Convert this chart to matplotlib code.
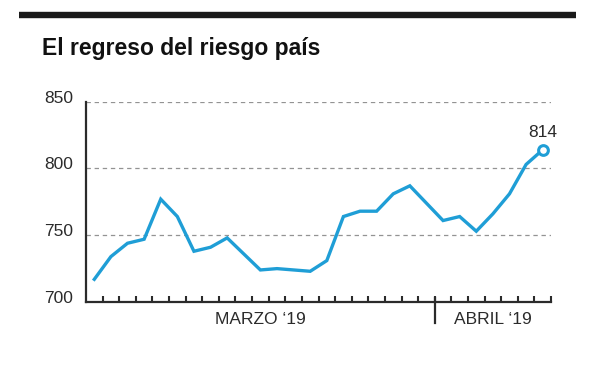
import numpy as np
import matplotlib.pyplot as plt
from matplotlib.lines import Line2D
from matplotlib.transforms import ScaledTranslation, blended_transform_factory

# riesgo pais, one value per trading day
values = [717, 734, 744, 747, 777, 764, 738, 741, 748, 736, 724, 725, 724, 723,
          731, 764, 768, 768, 781, 787, 774, 761, 764, 753, 766, 781, 803, 814]
month_labels = ["MARZO \u201819", "ABRIL \u201819"]
month_days = [21, 7]
y_ticks = [700, 750, 800, 850]
title = "El regreso del riesgo país"

blue = "#1f9ed6"
dark = "#2b2b2b"
font = ["Liberation Sans", "DejaVu Sans"]
plt.rcParams['font.family'] = font

fig = plt.figure(figsize=(6, 3.65), dpi=100)
ax = fig.add_axes([86 / 600, 1 - 302 / 365, 465 / 600, 200.3 / 365])

n = len(values)
x = np.arange(n) + 0.5
ax.plot(x, values, color=blue, lw=2.4, solid_joinstyle='miter', zorder=3)
ax.plot(x[-1], values[-1], 'o', ms=7, mfc='white', mec=blue, mew=2.2, zorder=4)
ax.annotate(str(values[-1]), (x[-1], values[-1]), xytext=(0, 7), textcoords='offset points',
            ha='center', va='bottom', fontsize=12.5, color=dark)

ax.set_xlim(0, n)
ax.set_ylim(y_ticks[0], y_ticks[-1])

# grid
for v in y_ticks[1:]:
    ax.axhline(v, color='#939393', lw=0.9, dashes=(3.5, 3), zorder=1)

for s in ['top', 'right']:
    ax.spines[s].set_visible(False)
for s in ['left', 'bottom']:
    ax.spines[s].set_color(dark)
    ax.spines[s].set_linewidth(1.6)

ax.set_yticks(y_ticks)
ax.set_yticklabels([str(v) for v in y_ticks])
ax.tick_params(axis='y', length=0, pad=9.5, labelsize=12.5, labelcolor=dark)
for lab in ax.get_yticklabels():
    lab.set_transform(lab.get_transform() + ScaledTranslation(0, 5 / 100, fig.dpi_scale_trans))

ax.set_xticks(np.arange(1, n + 1))
ax.set_xticklabels([])
ax.tick_params(axis='x', direction='in', length=4.5, width=1.5, color=dark)

# month separators and labels
trans = blended_transform_factory(ax.transData, ax.transAxes)
start = 0
for i, (lab, d) in enumerate(zip(month_labels, month_days)):
    if i > 0:
        ax.add_line(Line2D([start, start], [-0.105, 0.02], transform=trans,
                           color=dark, lw=1.6, clip_on=False))
    ax.text(start + d / 2, -0.085, lab, transform=trans, ha='center', va='center',
            fontsize=12.5, color=dark)
    start += d

# top rule and title
fig.add_artist(Line2D([19 / 600, 576 / 600], [1 - 15 / 365, 1 - 15 / 365],
                      color='#1a1a1a', lw=4.6, solid_capstyle='butt'))
fig.text(42 / 600, 1 - 55 / 365, title, fontsize=16.5, fontweight='bold',
         family=["Liberation Sans Narrow", "Liberation Sans", "DejaVu Sans"],
         color='#111111', va='baseline', ha='left')

fig.savefig("out.png", dpi=100, facecolor='white')
